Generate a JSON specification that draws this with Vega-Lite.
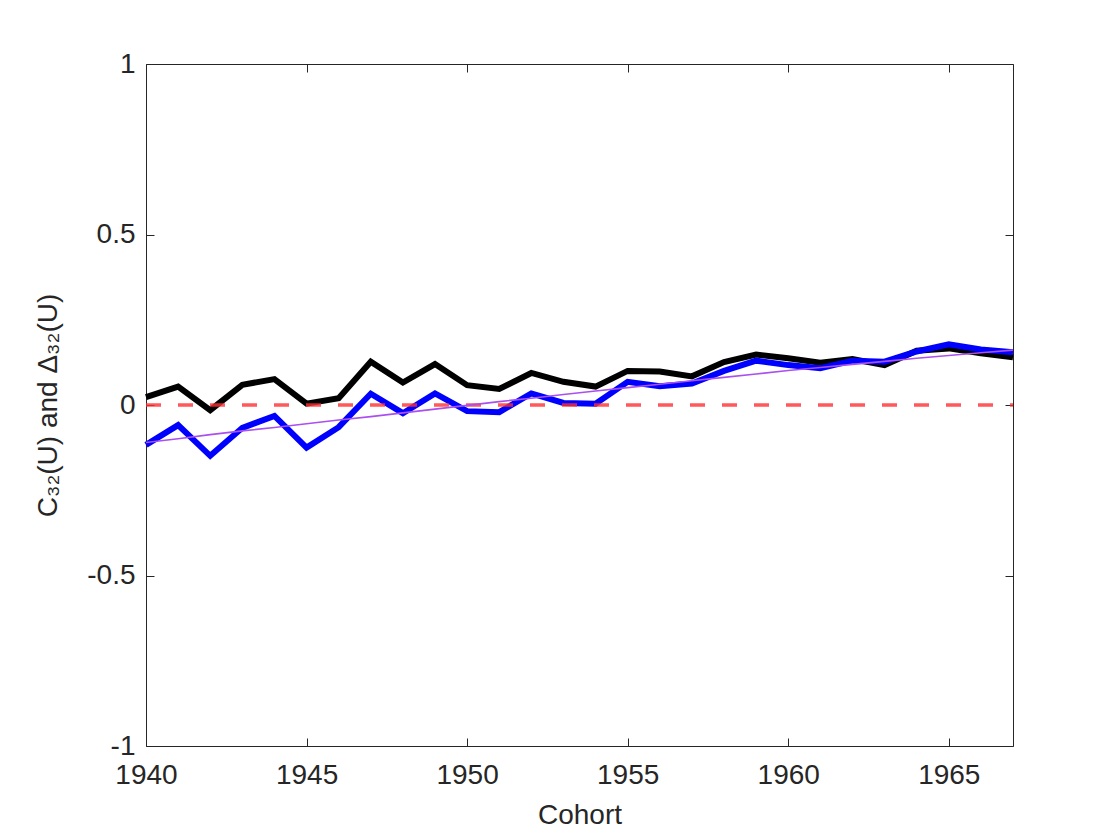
{
  "$schema": "https://vega.github.io/schema/vega-lite/v6.json",
  "width": 867,
  "height": 682,
  "autosize": {"type": "none"},
  "padding": {"left": 146, "top": 64, "right": 107, "bottom": 94},
  "background": "white",
  "config": {
    "view": {"stroke": "#262626", "strokeWidth": 1},
    "axis": {
      "grid": false,
      "domain": false,
      "offset": -8,
      "tickSize": 8,
      "tickWidth": 1,
      "tickColor": "#262626",
      "labelColor": "#262626",
      "titleColor": "#262626",
      "labelFont": "Liberation Sans",
      "titleFont": "Liberation Sans",
      "labelFontSize": 28,
      "titleFontSize": 28,
      "titleFontWeight": "normal",
      "labelFlush": false,
      "labelOverlap": false,
      "labelPadding": 11
    }
  },
  "datasets": {
    "series": [
      {"year": 1940, "C": 0.023, "D": -0.117, "fit": -0.110},
      {"year": 1941, "C": 0.054, "D": -0.059, "fit": -0.099},
      {"year": 1942, "C": -0.015, "D": -0.149, "fit": -0.087},
      {"year": 1943, "C": 0.059, "D": -0.067, "fit": -0.076},
      {"year": 1944, "C": 0.076, "D": -0.032, "fit": -0.066},
      {"year": 1945, "C": 0.004, "D": -0.125, "fit": -0.055},
      {"year": 1946, "C": 0.020, "D": -0.065, "fit": -0.044},
      {"year": 1947, "C": 0.127, "D": 0.033, "fit": -0.034},
      {"year": 1948, "C": 0.066, "D": -0.024, "fit": -0.023},
      {"year": 1949, "C": 0.120, "D": 0.034, "fit": -0.012},
      {"year": 1950, "C": 0.058, "D": -0.018, "fit": -0.001},
      {"year": 1951, "C": 0.047, "D": -0.021, "fit": 0.010},
      {"year": 1952, "C": 0.094, "D": 0.034, "fit": 0.020},
      {"year": 1953, "C": 0.068, "D": 0.006, "fit": 0.031},
      {"year": 1954, "C": 0.054, "D": 0.004, "fit": 0.041},
      {"year": 1955, "C": 0.100, "D": 0.068, "fit": 0.051},
      {"year": 1956, "C": 0.098, "D": 0.055, "fit": 0.061},
      {"year": 1957, "C": 0.084, "D": 0.063, "fit": 0.071},
      {"year": 1958, "C": 0.126, "D": 0.100, "fit": 0.081},
      {"year": 1959, "C": 0.148, "D": 0.130, "fit": 0.091},
      {"year": 1960, "C": 0.137, "D": 0.117, "fit": 0.101},
      {"year": 1961, "C": 0.124, "D": 0.108, "fit": 0.110},
      {"year": 1962, "C": 0.135, "D": 0.130, "fit": 0.119},
      {"year": 1963, "C": 0.117, "D": 0.127, "fit": 0.128},
      {"year": 1964, "C": 0.159, "D": 0.157, "fit": 0.137},
      {"year": 1965, "C": 0.166, "D": 0.178, "fit": 0.145},
      {"year": 1966, "C": 0.152, "D": 0.163, "fit": 0.153},
      {"year": 1967, "C": 0.140, "D": 0.155, "fit": 0.161}
    ],
    "zero": [
      {"year": 1940, "z": 0},
      {"year": 1967, "z": 0}
    ]
  },
  "layer": [
    {
      "data": {"name": "series"},
      "mark": {"type": "line", "color": "black", "strokeWidth": 6},
      "encoding": {
        "x": {
          "field": "year",
          "type": "quantitative",
          "scale": {"domain": [1940, 1967], "nice": false, "zero": false},
          "axis": {
            "values": [1940, 1945, 1950, 1955, 1960, 1965],
            "format": "d",
            "labelPadding": 15,
            "title": "Cohort",
            "titlePadding": 12
          }
        },
        "y": {
          "field": "C",
          "type": "quantitative",
          "scale": {"domain": [-1, 1], "nice": false},
          "axis": {
            "values": [-1, -0.5, 0, 0.5, 1],
            "labelExpr": "(datum.value < 0 ? '-' : '') + format(abs(datum.value), '~g')",
            "labelPadding": 11,
            "title": "C₃₂(U) and Δ₃₂(U)",
            "titlePadding": 24
          }
        }
      }
    },
    {
      "data": {"name": "series"},
      "mark": {"type": "line", "color": "#0000ff", "strokeWidth": 6},
      "encoding": {
        "x": {
          "field": "year",
          "type": "quantitative",
          "axis": {
            "orient": "top",
            "values": [1940, 1945, 1950, 1955, 1960, 1965],
            "labels": false,
            "title": null
          }
        },
        "y": {
          "field": "D",
          "type": "quantitative",
          "axis": {
            "orient": "right",
            "values": [-1, -0.5, 0, 0.5, 1],
            "labels": false,
            "title": null
          }
        }
      }
    },
    {
      "data": {"name": "zero"},
      "mark": {
        "type": "line",
        "color": "#ff3030",
        "opacity": 0.8,
        "strokeWidth": 3.5,
        "strokeDash": [15, 17]
      },
      "encoding": {
        "x": {"field": "year", "type": "quantitative", "axis": null},
        "y": {"field": "z", "type": "quantitative", "axis": null}
      }
    },
    {
      "data": {"name": "series"},
      "mark": {"type": "line", "color": "#aa4ff0", "strokeWidth": 1.6},
      "encoding": {
        "x": {"field": "year", "type": "quantitative", "axis": null},
        "y": {"field": "fit", "type": "quantitative", "axis": null}
      }
    }
  ],
  "resolve": {"axis": {"x": "independent", "y": "independent"}}
}
